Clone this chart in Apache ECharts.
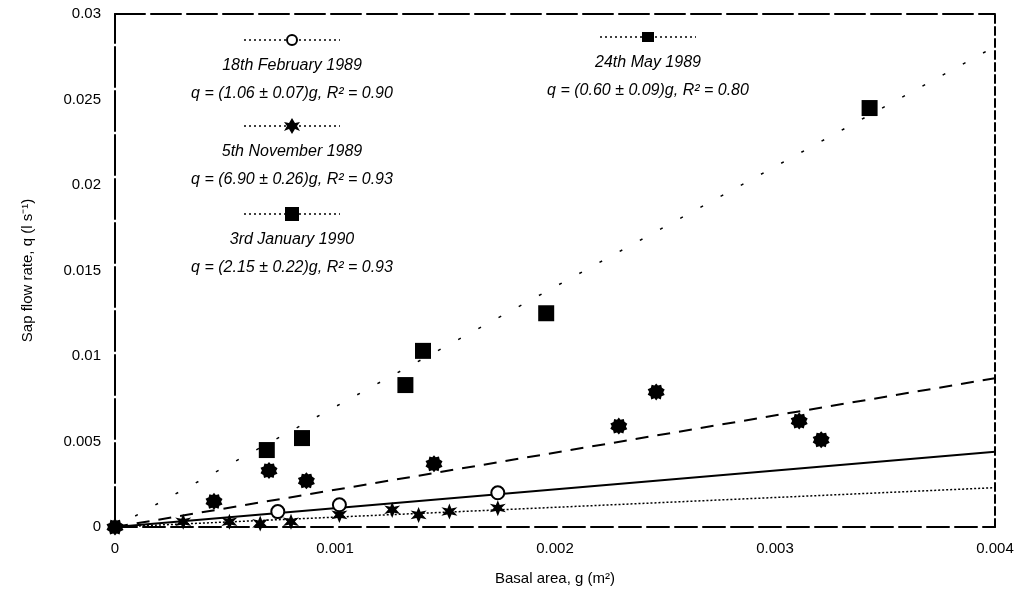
<!DOCTYPE html>
<html>
<head>
<meta charset="UTF-8">
<script src="https://cdn.jsdelivr.net/npm/echarts@6/dist/echarts.min.js"></script>
<style>
  html, body { margin: 0; padding: 0; background: #fff; }
  #chart { width: 1024px; height: 593px; }
</style>
</head>
<body>
<div id="chart"></div>
<script>
// axis ticks
var xTicks = [0, 0.001, 0.002, 0.003, 0.004];
var yTicks = [0, 0.005, 0.01, 0.015, 0.02, 0.025, 0.03];

// 18th February 1989 - open circles, solid fit
var febX = [0.00074, 0.00102, 0.00174];
var febY = [0.0009, 0.0013, 0.0020];
// 24th May 1989 - small stars, dotted fit
var mayX = [0.00031, 0.00052, 0.00066, 0.0008, 0.00102, 0.00126, 0.00138, 0.00152, 0.00174];
var mayY = [0.0003, 0.0003, 0.0002, 0.0003, 0.0007, 0.0010, 0.0007, 0.0009, 0.0011];
// 5th November 1989 - squares, steep fit
var novX = [0.00069, 0.00085, 0.00132, 0.0014, 0.00196, 0.00343];
var novY = [0.0045, 0.0052, 0.0083, 0.0103, 0.0125, 0.0245];
// 3rd January 1990 - round blobs, dashed fit
var janX = [0, 0.00045, 0.0007, 0.00087, 0.00145, 0.00229, 0.00246, 0.00311, 0.00321];
var janY = [0, 0.0015, 0.0033, 0.0027, 0.0037, 0.0059, 0.0079, 0.0062, 0.0051];

// fitted lines read at both ends of the x range
var fitX = [0, 0.004];
var febFit = [0, 0.0044];
var mayFit = [0, 0.0023];
var novFit = [0, 0.0281];
var janFit = [0, 0.0087];

var legendTitles = ['18th February 1989', '24th May 1989', '5th November 1989', '3rd January 1990'];
var legendEqs = [
  'q = (1.06 \u00b1 0.07)g, R\u00b2 = 0.90',
  'q = (0.60 \u00b1 0.09)g, R\u00b2 = 0.80',
  'q = (6.90 \u00b1 0.26)g, R\u00b2 = 0.93',
  'q = (2.15 \u00b1 0.22)g, R\u00b2 = 0.93'
];

function pairs(xs, ys) {
  var out = [];
  for (var i = 0; i < xs.length; i++) out.push([xs[i], ys[i]]);
  return out;
}

var starPath = 'path://M50,0 L61,30 L95,22 L72,48 L95,76 L62,68 L50,100 L38,68 L5,76 L28,48 L5,22 L39,30 Z';
var blobPath = 'path://M50,0 L60,12 L78,8 L82,25 L98,36 L90,52 L98,68 L80,76 L76,94 L60,88 L50,100 L40,88 L22,94 L18,76 L2,66 L10,50 L2,34 L20,26 L24,8 L40,12 Z';
var font = 'Liberation Sans';

var chart = echarts.init(document.getElementById('chart'));

function fitLine(ys, type, width) {
  return {
    type: 'line', data: pairs(fitX, ys), showSymbol: false, silent: true,
    lineStyle: { color: '#000', type: type, width: width }, z: 1
  };
}

// legend entries drawn as graphics: sample line + marker above two lines of text
var legendPos = [[292, 40], [648, 37], [292, 126], [292, 214]];
var graphics = [];
legendPos.forEach(function (p, i) {
  graphics.push({
    type: 'line', shape: { x1: p[0] - 48, y1: p[1], x2: p[0] + 48, y2: p[1] },
    style: { stroke: '#000', lineWidth: 1.5, lineDash: [2, 3] }
  });
  var sym;
  if (i === 0) {
    sym = { type: 'circle', shape: { cx: p[0], cy: p[1], r: 5 }, style: { fill: '#fff', stroke: '#000', lineWidth: 2 } };
  } else if (i === 2) {
    sym = { type: 'polygon', shape: { points: [[p[0], p[1] - 8], [p[0] + 3, p[1] - 3], [p[0] + 8, p[1] - 4], [p[0] + 5, p[1]], [p[0] + 8, p[1] + 5], [p[0] + 3, p[1] + 3], [p[0], p[1] + 8], [p[0] - 3, p[1] + 3], [p[0] - 8, p[1] + 5], [p[0] - 5, p[1]], [p[0] - 8, p[1] - 4], [p[0] - 3, p[1] - 3]] }, style: { fill: '#000' } };
  } else {
    var s = i === 1 ? 6 : 7;
    sym = { type: 'rect', shape: { x: p[0] - s, y: p[1] - s + (i === 1 ? 1 : 0), width: 2 * s, height: 2 * s - (i === 1 ? 2 : 0) }, style: { fill: '#000' } };
  }
  graphics.push(sym);
  graphics.push({
    type: 'text', x: p[0], y: p[1] + 26,
    style: { text: legendTitles[i], font: 'italic 16px ' + font, fill: '#000', align: 'center', verticalAlign: 'middle' }
  });
  graphics.push({
    type: 'text', x: p[0], y: p[1] + 54,
    style: { text: legendEqs[i], font: 'italic 16px ' + font, fill: '#000', align: 'center', verticalAlign: 'middle' }
  });
});

var option = {
  animation: false,
  backgroundColor: '#fff',
  grid: { left: 115, right: 29, top: 14, bottom: 66 },
  xAxis: [{
    type: 'value', min: xTicks[0], max: xTicks[xTicks.length - 1], interval: 0.001,
    name: 'Basal area, g (m\u00b2)', nameLocation: 'middle', nameGap: 44,
    nameTextStyle: { fontFamily: font, fontSize: 15, color: '#000' },
    axisLine: { show: true, onZero: false, lineStyle: { color: '#000', width: 2, type: [22, 6] } },
    axisTick: { show: false },
    axisLabel: { fontFamily: font, fontSize: 15, color: '#000', margin: 14 },
    splitLine: { show: false }
  }, {
    type: 'value', position: 'top', min: 0, max: 0.004,
    axisLine: { show: true, onZero: false, lineStyle: { color: '#000', width: 2, type: [30, 6] } },
    axisTick: { show: false }, axisLabel: { show: false }, splitLine: { show: false }
  }],
  yAxis: [{
    type: 'value', min: yTicks[0], max: yTicks[yTicks.length - 1], interval: 0.005,
    name: 'Sap flow rate, q (l s\u207b\u00b9)', nameLocation: 'middle', nameGap: 80,
    nameTextStyle: { fontFamily: font, fontSize: 15, color: '#000' },
    axisLine: { show: true, onZero: false, lineStyle: { color: '#000', width: 2, type: [40, 4] } },
    axisTick: { show: false },
    axisLabel: { fontFamily: font, fontSize: 15, color: '#000', margin: 14 },
    splitLine: { show: false }
  }, {
    type: 'value', position: 'right', min: 0, max: 0.03,
    axisLine: { show: true, onZero: false, lineStyle: { color: '#000', width: 2, type: [8, 4] } },
    axisTick: { show: false }, axisLabel: { show: false }, splitLine: { show: false }
  }],
  graphic: graphics,
  series: [
    fitLine(novFit, [3, 20], 1.5),
    fitLine(janFit, [13, 9], 2),
    fitLine(febFit, 'solid', 2),
    fitLine(mayFit, [2, 2], 1.5),
    {
      name: legendTitles[2], type: 'scatter', data: pairs(novX, novY),
      symbol: 'rect', symbolSize: 16, itemStyle: { color: '#000', opacity: 1 }, z: 3
    },
    {
      name: legendTitles[3], type: 'scatter', data: pairs(janX, janY),
      symbol: blobPath, symbolSize: 17, itemStyle: { color: '#000', opacity: 1 }, z: 3
    },
    {
      name: legendTitles[1], type: 'scatter', data: pairs(mayX, mayY),
      symbol: starPath, symbolSize: 16, itemStyle: { color: '#000', opacity: 1 }, z: 3
    },
    {
      name: legendTitles[0], type: 'scatter', data: pairs(febX, febY),
      symbol: 'emptyCircle', symbolSize: 13,
      itemStyle: { color: '#000', borderColor: '#000', borderWidth: 2, opacity: 1 }, z: 4
    }
  ]
};
chart.setOption(option);
</script>
</body>
</html>
